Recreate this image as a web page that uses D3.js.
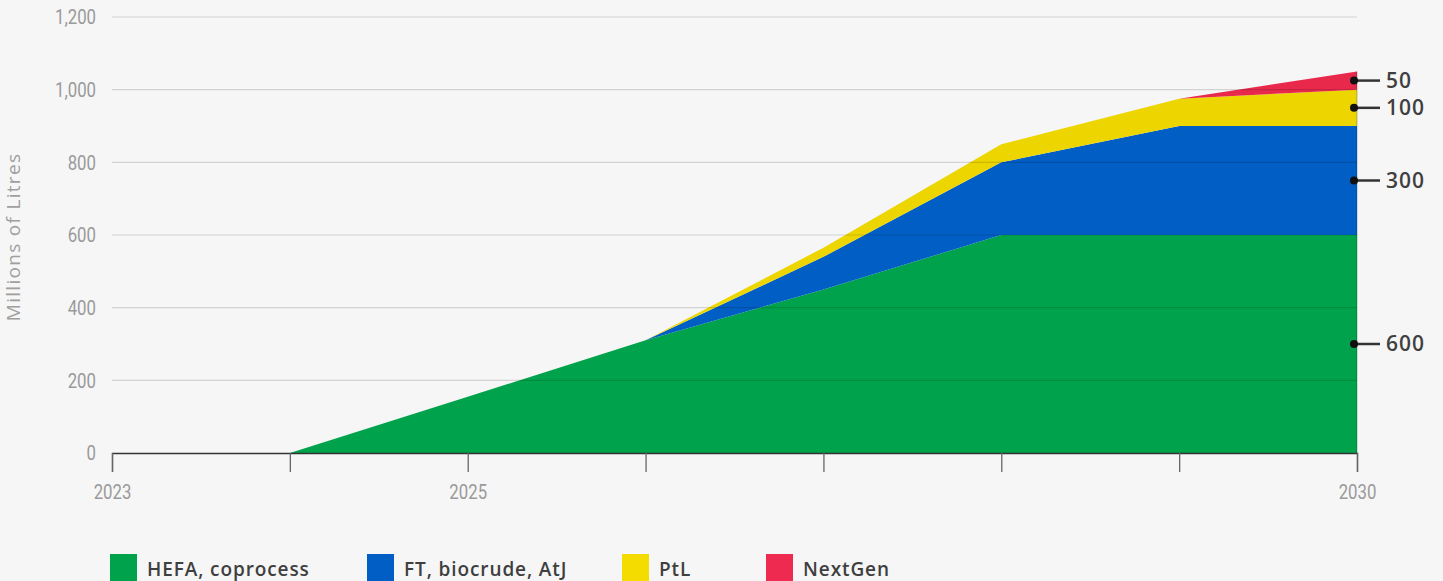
<!DOCTYPE html>
<html>
<head>
<meta charset="utf-8">
<script src="https://cdn.jsdelivr.net/npm/d3@7"></script>
<style>
  body { margin: 0; background: #f6f6f6; }
  svg { display: block; }
  .tick text { font-family: "Roboto", sans-serif; fill: #9a9a9a; font-size: 21px; }
  .yAxisLabel { font-family: "Open Sans", sans-serif; fill: #a0a0a0; font-size: 19px; letter-spacing: 1.3px; }
  .note { font-family: "Open Sans", sans-serif; fill: #3f3f3f; font-size: 21px; font-weight: 600; letter-spacing: 1px; }
  .legend text { font-family: "Open Sans", sans-serif; fill: #3f3f3f; font-size: 19px; font-weight: 600; letter-spacing: 0.9px; }
</style>
</head>
<body>
<div id="chart"></div>
<script>

var years = [2023, 2024, 2025, 2026, 2027, 2028, 2029, 2030];
var hefa    = [0, 0, 155, 310, 450, 600, 600, 600];
var ft      = [0, 0, 0, 0, 90, 200, 300, 300];
var ptl     = [0, 0, 0, 0, 25, 50, 75, 100];
var nextgen = [0, 0, 0, 0, 0, 0, 0, 50];

var seriesKeys = ["hefa", "ft", "ptl", "nextgen"];
var seriesNames = ["HEFA, coprocess", "FT, biocrude, AtJ", "PtL", "NextGen"];
var seriesColors = ["#00a34b", "#005ec4", "#edd600", "#e8294c"];
var legendColors = ["#00a34b", "#005ec4", "#f5dc00", "#ee2a50"];
var endLabels = ["600", "300", "100", "50"];

var yTicks = [0, 200, 400, 600, 800, 1000, 1200];
var xLabelYears = [2023, 2025, 2030];

var margin = { left: 112, right: 86, top: 17, bottom: 128 };
var W = 1443, H = 581;
var width = W - margin.left - margin.right;
var height = H - margin.top - margin.bottom;
var squeeze = 0.8; // fake a condensed face for the tick labels

var table = years.map(function(y, i) {
    return { year: y, hefa: hefa[i], ft: ft[i], ptl: ptl[i], nextgen: nextgen[i] };
});

var SVG = d3.select("#chart").append("svg")
    .attr("width", W)
    .attr("height", H);

var svg = SVG.append("g")
    .attr("transform", "translate(" + margin.left + "," + margin.top + ")");

var x = d3.scaleLinear().domain([2023, 2030]).range([0, width]);
var y = d3.scaleLinear().domain([0, 1200]).range([height, 0]);

var stack = d3.stack().keys(seriesKeys);
var layers = stack(table);

var area = d3.area()
    .x(function(d) { return x(d.data.year); })
    .y0(function(d) { return y(d[0]); })
    .y1(function(d) { return y(d[1]); });

svg.selectAll(".layer")
    .data(layers).enter()
    .append("path")
    .attr("class", "layer")
    .attr("fill", function(d, i) { return seriesColors[i]; })
    .attr("d", area);

// gridlines drawn on top, faint
svg.selectAll(".grid")
    .data(yTicks.filter(function(t) { return t > 0; })).enter()
    .append("line")
    .attr("class", "grid")
    .attr("x1", 0)
    .attr("x2", width)
    .attr("y1", function(d) { return y(d); })
    .attr("y2", function(d) { return y(d); })
    .attr("stroke", "rgba(0,0,0,0.14)")
    .attr("stroke-width", 1.2);

// right edge line
svg.append("line")
    .attr("x1", x(2030)).attr("x2", x(2030))
    .attr("y1", y(nextgen[7] + ptl[7] + ft[7] + hefa[7])).attr("y2", height)
    .attr("stroke", "rgba(0,0,0,0.25)");

var yAxis = d3.axisLeft(y).tickValues(yTicks).tickSize(0).tickPadding(16)
    .tickFormat(d3.format(","));
svg.append("g")
    .attr("class", "yAxis")
    .call(yAxis)
    .call(function(g) {
        g.select(".domain").remove();
        g.selectAll(".tick text")
            .attr("x", -16 / squeeze)
            .attr("transform", "scale(" + squeeze + ",1)");
    });

var xAxis = d3.axisBottom(x).tickValues(years).tickSize(19).tickPadding(12)
    .tickFormat(function(d) { return xLabelYears.indexOf(d) >= 0 ? d : ""; });
svg.append("g")
    .attr("class", "xAxis")
    .attr("transform", "translate(0," + height + ")")
    .call(xAxis)
    .call(function(g) {
        g.select(".domain").attr("stroke", "#333").attr("stroke-width", 1.3);
        g.selectAll(".tick line").attr("stroke", "#666").attr("stroke-width", 1.3);
        g.selectAll(".tick text").attr("transform", "scale(" + squeeze + ",1)");
    });

svg.append("text")
    .attr("class", "yAxisLabel")
    .attr("transform", "rotate(-90)")
    .attr("x", -(y(600) + 2))
    .attr("y", -margin.left + 20)
    .style("text-anchor", "middle")
    .text("Millions of Litres");

// end annotations at middle of each band in 2030
var last = layers.map(function(l) { return l[l.length - 1]; });
var notes = svg.selectAll(".noteG")
    .data(last).enter()
    .append("g")
    .attr("class", "noteG")
    .attr("transform", function(d) {
        return "translate(" + (x(2030) - 3) + "," + y((d[0] + d[1]) / 2) + ")";
    });
notes.append("line")
    .attr("x1", 0).attr("x2", 26)
    .attr("stroke", "#333").attr("stroke-width", 2.5);
notes.append("circle")
    .attr("r", 4).attr("fill", "#111");
notes.append("text")
    .attr("class", "note")
    .attr("x", 32)
    .attr("dy", "0.35em")
    .text(function(d, i) { return endLabels[i]; });

// legend
var legendX = [110, 367, 622, 766];
var legend = SVG.append("g").attr("class", "legend");
var items = legend.selectAll("g")
    .data(seriesNames).enter()
    .append("g")
    .attr("transform", function(d, i) { return "translate(" + legendX[i] + ",554)"; });
items.append("rect")
    .attr("width", 27).attr("height", 27)
    .attr("fill", function(d, i) { return legendColors[i]; });
items.append("text")
    .attr("x", 37)
    .attr("y", 15)
    .attr("dy", "0.35em")
    .text(function(d) { return d; });

</script>
</body>
</html>
